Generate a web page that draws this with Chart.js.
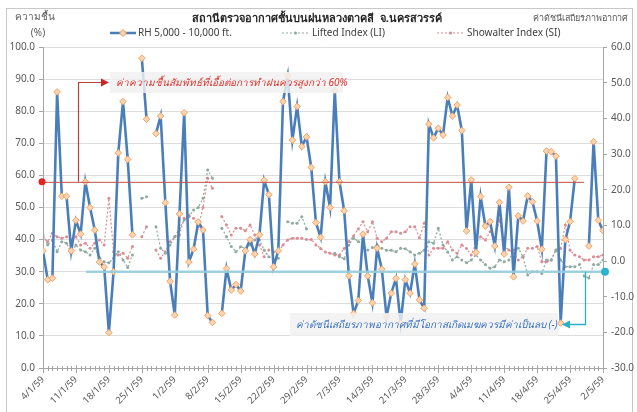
<!DOCTYPE html>
<html>
<head>
<meta charset="utf-8">
<script src="https://cdn.jsdelivr.net/npm/chart.js@4.4.0/dist/chart.umd.min.js"></script>
<style>
  html, body { margin: 0; padding: 0; background: #fff; }
  #wrap { width: 637px; height: 412px; position: relative; }
</style>
</head>
<body>
<div id="wrap"><canvas id="rhChart"></canvas></div>
<script>
// tick labels every 7 days (day 0 = 4/1/59)
const xTickLabels = ['4/1/59', '11/1/59', '18/1/59', '25/1/59', '1/2/59', '8/2/59', '15/2/59', '22/2/59', '29/2/59',
  '7/3/59', '14/3/59', '21/3/59', '28/3/59', '4/4/59', '11/4/59', '18/4/59', '25/4/59', '2/5/59'];

// RH 5,000 - 10,000 ft. (%), one value per day
const rhValues = [
  36.5, 27.5, 28, 86, 53.5, 53.5, 36.5, 46, 41.7, 58,
  50, 43, 33, 31.5, 11, 30, 67, 83, 65, 41.5,
  null, 96.5, 77.5, null, 73, 78.5, 51.5, 27, 16.5, 48,
  79.5, 33, 37, 45.5, 43, 16.3, 14.2, null, 17, 31,
  24.3, 26, 24, 36.5, 40, 35.5, 41.5, 58.5, 54, 31.5,
  36.5, 83, 91, 71, 81.5, 69, 72, 62.5, 45.3, 40.7,
  58, 50, 86.5, 58, 49, 28.7, 17, 21, 41.7, 28.7,
  20.3, 37.3, 30.8, 16, 23.3, 27.9, 14, 27.5, 23.3, 32.4,
  21.2, 18.6, 76, 71.7, 74.7, 72.6, 84.3, 78.5, 81.9, 74,
  42.7, 58.6, 36, 53.4, 44.2, 45.6, 38, 51.6, 35.5, 56.3,
  28.4, 47.4, 45.8, 53.6, 51.8, 45.8, 37, 67.6, 67.4, 66,
  14, 40, 45.6, 59, null, null, 38, 70.5, 46, 42.8
];

// Lifted Index (LI)
const liValues = [
  7.3, 4.5, 5.9, 2.6, 5.4, 5.0, 2.2, 4.5, 3.1, 2.6,
  1.7, 3.6, 1.0, -0.2, -0.5, 0.8, 2.6, 0.3, -1.8, 1.7,
  null, 17.6, 18, null, 9.6, 3.6, 2.2, 4.5, 6.8, 9.2,
  11.5, 12.4, 14.3, 15, 17.6, 25.5, 23.2, null, 9.2, 6.8,
  4.1, 2.6, 4, 3.5, 4.5, 5.9, 5.9, 3.0, 1.2, 0.3,
  0.8, null, 11, 10.6, 10.6, 12.4, 9.0, null, null, null,
  null, null, 2.2, 1.2, 0.6, 4.5, 6.4, 5.5, 4.5, 3.1,
  3.8, 4.5, 3.6, 3.0, 3.0, 2.6, 3.6, 3.4, 2.6, 1.7,
  2.2, 3.0, 5.4, 5.0, 9.2, 4.5, 2.5, 0.3, 1.2, 0.3,
  -0.5, 0.3, 1.7, 0.3, -1.0, -2.0, -1.6, 0.3, -0.2, 0.3,
  3.1, 3.6, 1.2, -3.9, -3.0, -3.0, -3.5, 0.3, 0.3, 3.1,
  0.3, -1.6, -1.6, -1.6, -1.0, -4.2, -4.8, -1.0, -1.0, 0.3
];

// Showalter Index (SI)
const siValues = [
  6.8, 5.4, 7.8, 6.8, 6.4, 6.8, 5.9, 6.8, 4.5, 5.0,
  3.6, 5.0, 5.9, 4.5, 17.6, 2.6, 1.7, 2.2, 0.8, 4.1,
  null, 6.8, 9.6, null, 3.1, 0.8, 2.6, 5.4, 6.8, 7.3,
  12, 12.9, 12, 9.6, 15, 23.2, 20.4, null, 12.5, 10.1,
  7.3, 9.2, 9.2, 8.5, 10.1, 7.3, 4.5, 1.2, 3.1, 2.5,
  2.6, 4.5, 5.9, 6.4, 6.4, 6.4, 6, 6, 4.5, 3.5,
  2.5, 2.2, 1.7, 1.7, 3.5, 5.5, 7, 9, 11, 8.2,
  11, 6.4, 5.4, 6.4, 8.2, 8.2, 7.8, 8.2, 9.6, 9.6,
  6.5, 10.6, 1.7, 3.6, 3.6, 3.6, 5.4, 3.1, 2.2, 4.5,
  3.5, 1.7, 5.0, 6.8, 5.9, 8.2, 6, 11.5, 4.1, 3.1,
  2.2, 0.3, 1.2, 3.6, 3.6, 4.1, -0.2, -0.2, 0.3, 3.1,
  3.5, 10.1, 3.0, 1.7, 1.2, 0.3, 0.3, 1.2, 1.2, 1.7
];

const FONT = "'Noto Sans', 'DejaVu Sans', sans-serif";
const toPoints = arr => arr.map((v, i) => ({ x: i, y: v }));

function arrowHead(ctx, x, y, dir, color) {
  ctx.save();
  ctx.fillStyle = color;
  ctx.beginPath();
  ctx.moveTo(x, y);
  ctx.lineTo(x - dir * 8, y - 4);
  ctx.lineTo(x - dir * 8, y + 4);
  ctx.closePath();
  ctx.fill();
  ctx.restore();
}

const decorPlugin = {
  id: 'decorPlugin',
  beforeDraw(chart) {
    const c = chart.ctx;
    c.save();
    c.fillStyle = '#fff';
    c.fillRect(0, 0, chart.width, chart.height);
    c.strokeStyle = '#C8C8C8';
    c.lineWidth = 1;
    c.strokeRect(6.5, 8.5, 626, 410);
    c.restore();
  },
  afterDatasetsDraw(chart) {
    const c = chart.ctx;
    const xs = chart.scales.x, yl = chart.scales.y, yr = chart.scales.y1;
    const area = chart.chartArea;
    c.save();

    // red reference line at RH 58%
    const yRed = yl.getPixelForValue(58);
    c.strokeStyle = '#C0504D';
    c.lineWidth = 1;
    c.beginPath();
    c.moveTo(area.left, yRed + 0.5);
    c.lineTo(584, yRed + 0.5);
    c.stroke();
    c.fillStyle = '#E32222';
    c.beginPath();
    c.arc(area.left - 1, yRed, 3.5, 0, Math.PI * 2);
    c.fill();

    // red arrow to the note
    c.strokeStyle = '#B8413E';
    c.lineWidth = 1.2;
    c.beginPath();
    c.moveTo(78.5, yRed);
    c.lineTo(78.5, 82.5);
    c.lineTo(102, 82.5);
    c.stroke();
    arrowHead(c, 109, 82.5, 1, '#C62828');

    // note box (red)
    c.fillStyle = 'rgba(240,240,240,0.82)';
    c.fillRect(110, 72, 233, 21);
    c.fillStyle = '#E0312C';
    c.font = 'italic 10px ' + FONT;
    c.textBaseline = 'middle';
    c.textAlign = 'left';
    c.fillText('ค่าความชื้นสัมพัทธ์ที่เอื้อต่อการทำฝนควรสูงกว่า 60%', 116, 83);

    // cyan reference line at index -3
    const yCyan = yr.getPixelForValue(-3);
    c.strokeStyle = 'rgba(150,205,222,0.9)';
    c.lineWidth = 2.5;
    c.beginPath();
    c.moveTo(86, yCyan);
    c.lineTo(area.right + 2, yCyan);
    c.stroke();
    c.fillStyle = '#2DB3D1';
    c.beginPath();
    c.arc(area.right + 2, yCyan, 4, 0, Math.PI * 2);
    c.fill();

    // cyan arrow
    c.strokeStyle = '#2AAFC8';
    c.lineWidth = 1.3;
    c.beginPath();
    c.moveTo(585.5, yCyan);
    c.lineTo(585.5, 324.5);
    c.lineTo(570, 324.5);
    c.stroke();
    arrowHead(c, 562, 324.5, -1, '#2AAFC8');

    // note box (blue)
    c.fillStyle = 'rgba(240,240,240,0.82)';
    c.fillRect(290, 313, 268, 23);
    c.fillStyle = '#3A72C0';
    c.font = 'italic 10px ' + FONT;
    c.fillText('ค่าดัชนีเสถียรภาพอากาศที่มีโอกาสเกิดเมฆควรมีค่าเป็นลบ (-)', 296, 325);
    c.restore();
  },
  afterDraw(chart) {
    const c = chart.ctx;
    const xs = chart.scales.x;
    const area = chart.chartArea;
    c.save();

    // x axis line with daily minor ticks and weekly major ticks
    c.strokeStyle = '#A6A6A6';
    c.lineWidth = 1;
    c.beginPath();
    c.moveTo(area.left, area.bottom + 0.5);
    c.lineTo(area.right, area.bottom + 0.5);
    for (let d = 0; d < rhValues.length; d++) {
      const px = Math.round(xs.getPixelForValue(d)) + 0.5;
      const major = d % 7 === 0;
      c.moveTo(px, area.bottom - (major ? 3 : 2));
      c.lineTo(px, area.bottom + (major ? 5 : 3));
    }
    c.stroke();

    // title
    c.fillStyle = '#262626';
    c.textBaseline = 'middle';
    c.textAlign = 'center';
    c.font = 'bold 11px ' + FONT;
    c.fillText('สถานีตรวจอากาศชั้นบนฝนหลวงตาคลี  จ.นครสวรรค์', 317, 19);

    // axis titles
    c.fillStyle = '#595959';
    c.font = '10px ' + FONT;
    c.fillText('ความชื้น', 35, 17);
    c.fillText('(%)', 38, 33);
    c.textAlign = 'right';
    c.font = '9px ' + FONT;
    c.fillText('ค่าดัชนีเสถียรภาพอากาศ', 628, 18);

    // legend
    c.textAlign = 'left';
    c.font = '10px ' + FONT;
    // RH
    c.strokeStyle = '#4A7EBB';
    c.lineWidth = 2.5;
    c.beginPath();
    c.moveTo(110, 33);
    c.lineTo(136, 33);
    c.stroke();
    c.fillStyle = '#FBD4B4';
    c.strokeStyle = '#F79646';
    c.lineWidth = 1;
    c.beginPath();
    c.moveTo(123, 29.5); c.lineTo(126.5, 33); c.lineTo(123, 36.5); c.lineTo(119.5, 33); c.closePath();
    c.fill(); c.stroke();
    c.fillStyle = '#404040';
    c.fillText('RH 5,000 - 10,000 ft.', 138, 33);
    // LI
    const dotted = (x1, x2, col) => {
      c.strokeStyle = col;
      c.lineWidth = 1.2;
      c.setLineDash([2, 2]);
      c.beginPath();
      c.moveTo(x1, 33); c.lineTo(x2, 33);
      c.stroke();
      c.setLineDash([]);
      c.fillStyle = col;
      c.beginPath();
      c.arc((x1 + x2) / 2, 33, 1.6, 0, Math.PI * 2);
      c.fill();
    };
    dotted(282, 309, '#8FAA9E');
    c.fillStyle = '#404040';
    c.fillText('Lifted Index (LI)', 312, 33);
    dotted(437, 464, '#DC8C92');
    c.fillStyle = '#404040';
    c.fillText('Showalter Index (SI)', 467, 33);
    c.restore();
  }
};

new Chart(document.getElementById('rhChart').getContext('2d'), {
  type: 'line',
  data: {
    datasets: [
      {
        label: 'RH 5,000 - 10,000 ft.',
        data: toPoints(rhValues),
        yAxisID: 'y',
        borderColor: '#4A7EBB',
        borderWidth: 2.6,
        pointStyle: 'rectRot',
        pointRadius: 3.3,
        pointBackgroundColor: '#FBD4B4',
        pointBorderColor: '#F4A460',
        pointBorderWidth: 1,
        spanGaps: false,
        tension: 0
      },
      {
        label: 'Lifted Index (LI)',
        data: toPoints(liValues),
        yAxisID: 'y1',
        borderColor: '#8FAA9E',
        borderWidth: 1.2,
        borderDash: [2, 2],
        pointRadius: 1.5,
        pointBackgroundColor: '#8FAA9E',
        pointBorderWidth: 0,
        spanGaps: false,
        tension: 0
      },
      {
        label: 'Showalter Index (SI)',
        data: toPoints(siValues),
        yAxisID: 'y1',
        borderColor: '#DC8C92',
        borderWidth: 1.2,
        borderDash: [2, 2],
        pointRadius: 1.5,
        pointBackgroundColor: '#DC8C92',
        pointBorderWidth: 0,
        spanGaps: false,
        tension: 0
      }
    ]
  },
  options: {
    responsive: true,
    maintainAspectRatio: false,
    animation: false,
    layout: { padding: { top: 47, left: 0, right: 0, bottom: 0 } },
    plugins: {
      legend: { display: false },
      title: { display: false },
      tooltip: { enabled: false }
    },
    scales: {
      x: {
        type: 'linear',
        min: 0,
        max: 119,
        grid: { display: false, drawTicks: false },
        border: { display: false },
        ticks: {
          stepSize: 7,
          autoSkip: false,
          minRotation: 45,
          maxRotation: 45,
          padding: 6,
          color: '#595959',
          font: { family: FONT, size: 9.5 },
          callback: v => xTickLabels[Math.round(v / 7)] || ''
        },
        afterFit: s => { s.height = 44; }
      },
      y: {
        position: 'left',
        min: 0,
        max: 100,
        ticks: {
          stepSize: 10,
          color: '#595959',
          padding: 4,
          font: { family: FONT, size: 10 },
          callback: v => v.toFixed(1)
        },
        grid: { color: '#DDDDDD', tickColor: '#A6A6A6', tickLength: 4 },
        border: { color: '#A6A6A6' },
        afterFit: s => { s.width = 43; }
      },
      y1: {
        position: 'right',
        min: -30,
        max: 60,
        ticks: {
          stepSize: 10,
          color: '#595959',
          padding: 4,
          font: { family: FONT, size: 10 },
          callback: v => v.toFixed(1)
        },
        grid: { drawOnChartArea: false, tickColor: '#A6A6A6', tickLength: 4 },
        border: { color: '#A6A6A6' },
        afterFit: s => { s.width = 34; }
      }
    }
  },
  plugins: [decorPlugin]
});
</script>
</body>
</html>
